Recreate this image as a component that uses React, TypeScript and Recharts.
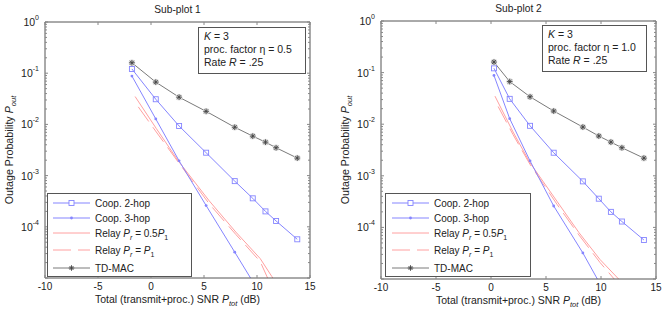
import { LineChart, Line, XAxis, YAxis, Legend } from "recharts";

const FONT = "'Liberation Sans', Arial, Helvetica, sans-serif";
const BLUE = "#8585ff";
const RED = "#ffa0a0";
const DARK = "#7a7a7a";
const STAR = "#444";
const AXIS = "#555";
const TICK = "#888";
const TEXT = "#222";

// x positions (total SNR, dB) for each panel
const snrA = [-1.8, 0.45, 2.65, 5.2, 7.9, 9.6, 10.8, 11.8, 13.8];
const snrB = [0.27, 1.7, 3.55, 5.7, 8.35, 9.8, 10.9, 11.9, 13.9];
const relaySnrA = [-1.5, 0.5, 2.6, 5.5, 8, 10.3, 11.4, 11.8];
const relayDashSnrA = [-1.2, 0.5, 2.6, 5.5, 8, 10.3, 11.0, 11.3];
const relaySnrB = [0.36, 2, 3.55, 6, 8, 9.9, 11.6, 12];
const relayDashSnrB = [0.65, 2, 3.55, 6, 8, 9.9, 11.2, 11.5];

// outage probabilities
const tdMac = [0.16, 0.067, 0.034, 0.018, 0.0088, 0.0059, 0.0045, 0.0035, 0.0022];
const coop2 = [0.121, 0.031, 0.0093, 0.0028, 7.8e-4, 3.6e-4, 2.0e-4, 1.3e-4, 5.7e-5];
const coop3A = [0.088, 0.0128, 0.00194, 2.6e-4, 3.2e-5, 8.5e-6];
const coop3B = [0.088, 0.0128, 0.00194, 2.6e-4, 3.2e-5, 8.9e-6];
const relayHalfA = [0.035, 0.0083, 0.0019, 3.2e-4, 7.9e-5, 2.4e-5, 1.07e-5, 7.9e-6];
const relayFullA = [0.022, 0.0071, 0.0018, 2.8e-4, 7.1e-5, 2.1e-5, 1e-5, 7e-6];
const relayHalfB = [0.035, 0.0071, 0.00178, 3.2e-4, 7.9e-5, 2.4e-5, 1e-5, 7.9e-6];
const relayFullB = [0.022, 0.0063, 0.00166, 2.8e-4, 7.1e-5, 2.1e-5, 1e-5, 7.9e-6];

const xTicks = [-10, -5, 0, 5, 10, 15];
const decades = [-5, -4, -3, -2, -1, 0];
const yTicks: number[] = [];
decades.forEach((d) => {
  yTicks.push(Math.pow(10, d));
  if (d < 0) for (let k = 2; k <= 9; k++) yTicks.push(k * Math.pow(10, d));
});

const zip = (xs: number[], ys: number[]) => ys.map((y, i) => ({ x: xs[i], y }));

const isMajor = (v: number) => Math.abs(Math.log10(v) - Math.round(Math.log10(v))) < 1e-6;

const SquareDot = (p: any) =>
  p.cx == null ? <g key={p.index} /> : (
    <rect key={p.index} x={p.cx - 2.5} y={p.cy - 2.5} width={5} height={5} fill="none" stroke={BLUE} strokeWidth={0.9} />
  );
const SmallDot = (p: any) =>
  p.cx == null ? <g key={p.index} /> : <circle key={p.index} cx={p.cx} cy={p.cy} r={1.4} fill={BLUE} />;
const starPath = (x: number, y: number) =>
  `M${x - 2.8},${y}H${x + 2.8}M${x},${y - 2.8}V${y + 2.8}M${x - 2},${y - 2}L${x + 2},${y + 2}M${x - 2},${y + 2}L${x + 2},${y - 2}`;
const StarDot = (p: any) =>
  p.cx == null ? <g key={p.index} /> : (
    <g key={p.index}>
      <circle cx={p.cx} cy={p.cy} r={3.3} fill="#ddd" />
      <path d={starPath(p.cx, p.cy)} stroke={STAR} strokeWidth={0.9} fill="none" />
    </g>
  );

const BottomTick = ({ x, y, payload }: any) => (
  <g>
    <line x1={x} x2={x} y1={y} y2={y - 3} stroke={TICK} />
    <text x={x} y={y + 11.5} textAnchor="middle" fontSize={10} fill={TEXT} fontFamily={FONT}>
      {payload.value}
    </text>
  </g>
);
const TopTick = ({ x, y }: any) => <line x1={x} x2={x} y1={y} y2={y + 3} stroke={TICK} />;
const LeftTick = ({ x, y, payload }: any) => {
  const v = payload.value;
  const major = isMajor(v);
  const e = Math.round(Math.log10(v));
  return (
    <g>
      <line x1={x} x2={x + (major ? 3 : 2)} y1={y} y2={y} stroke={TICK} />
      {major && e >= -4 && (
        <text x={x - 6} y={y + 4} textAnchor="end" fontSize={10.5} fill={TEXT} fontFamily={FONT}>
          10<tspan dy={-6} fontSize={7}>{e}</tspan>
        </text>
      )}
    </g>
  );
};
const RightTick = ({ x, y, payload }: any) => (
  <line x1={x} x2={x - (isMajor(payload.value) ? 3 : 2)} y1={y} y2={y} stroke={TICK} />
);

const LegendBox = ({ w, lineX }: { w: number; lineX: number }) => {
  const rows = [10, 25, 40, 57, 75];
  const x1 = lineX;
  const x2 = lineX + 37;
  const mid = (x1 + x2) / 2;
  const tx = x2 + 5;
  return (
    <svg width={w} height={84} style={{ display: "block", fontFamily: FONT }}>
      <rect x={0.5} y={0.5} width={w - 1} height={83} fill="#fff" stroke={AXIS} />
      <line x1={x1} x2={x2} y1={rows[0]} y2={rows[0]} stroke={BLUE} />
      <rect x={mid - 2.5} y={rows[0] - 2.5} width={5} height={5} fill="#fff" stroke={BLUE} strokeWidth={0.9} />
      <text x={tx} y={rows[0] + 3.5} fontSize={10} fill={TEXT}>Coop. 2-hop</text>
      <line x1={x1} x2={x2} y1={rows[1]} y2={rows[1]} stroke={BLUE} />
      <circle cx={mid} cy={rows[1]} r={1.4} fill={BLUE} />
      <text x={tx} y={rows[1] + 3.5} fontSize={10} fill={TEXT}>Coop. 3-hop</text>
      <line x1={x1} x2={x2} y1={rows[2]} y2={rows[2]} stroke={RED} />
      <text x={tx} y={rows[2] + 3.5} fontSize={10} fill={TEXT}>
        Relay <tspan fontStyle="italic">P</tspan>
        <tspan fontSize={7} dy={3} fontStyle="italic">r</tspan>
        <tspan dy={-3}> = 0.5</tspan>
        <tspan fontStyle="italic">P</tspan>
        <tspan fontSize={7} dy={3}>1</tspan>
      </text>
      <line x1={x1} x2={x2} y1={rows[3]} y2={rows[3]} stroke={RED} strokeDasharray="18 7" />
      <text x={tx} y={rows[3] + 3.5} fontSize={10} fill={TEXT}>
        Relay <tspan fontStyle="italic">P</tspan>
        <tspan fontSize={7} dy={3} fontStyle="italic">r</tspan>
        <tspan dy={-3}> = </tspan>
        <tspan fontStyle="italic">P</tspan>
        <tspan fontSize={7} dy={3}>1</tspan>
      </text>
      <line x1={x1} x2={x2} y1={rows[4]} y2={rows[4]} stroke={DARK} />
      <path d={starPath(mid, rows[4])} stroke={STAR} strokeWidth={0.9} fill="none" />
      <text x={tx} y={rows[4] + 3.5} fontSize={10} fill={TEXT}>TD-MAC</text>
    </svg>
  );
};

type PanelProps = {
  left: number;
  title: string;
  eta: string;
  margin: { top: number; right: number; bottom: number; left: number };
  snr: number[];
  coop3: number[];
  relaySnr: number[];
  relayDashSnr: number[];
  relayHalf: number[];
  relayFull: number[];
  legendPos: { left: number; top: number; width: number; lineX: number };
  notePos: { left: number; top: number; width: number; height: number };
};

const Panel = (p: PanelProps) => (
  <div style={{ position: "absolute", left: p.left, top: 0, width: 332, height: 314 }}>
    <LineChart width={332} height={314} margin={p.margin}>
      <XAxis
        type="number"
        dataKey="x"
        domain={[-10, 15]}
        ticks={xTicks}
        interval={0}
        height={1}
        tickSize={0}
        tickMargin={0}
        tickLine={false}
        allowDataOverflow
        axisLine={{ stroke: AXIS }}
        tick={(t: any) => <BottomTick {...t} />}
        label={{
          content: (l: any) => {
            const vb = l.viewBox || {};
            return (
              <text x={vb.x + vb.width / 2} y={vb.y + 25} textAnchor="middle" fontSize={10.5} fill={TEXT} fontFamily={FONT}>
                Total (transmit+proc.) SNR <tspan fontStyle="italic">P</tspan>
                <tspan fontSize={7.5} dy={3} fontStyle="italic">tot</tspan>
                <tspan dy={-3}> (dB)</tspan>
              </text>
            );
          },
        }}
      />
      <XAxis
        xAxisId="top"
        orientation="top"
        type="number"
        dataKey="x"
        domain={[-10, 15]}
        ticks={xTicks}
        interval={0}
        height={1}
        tickSize={0}
        tickMargin={0}
        tickLine={false}
        allowDataOverflow
        axisLine={{ stroke: AXIS }}
        tick={(t: any) => <TopTick {...t} />}
        label={{
          content: (l: any) => {
            const vb = l.viewBox || {};
            return (
              <text x={vb.x + vb.width / 2} y={vb.y - 8} textAnchor="middle" fontSize={10.2} fill={TEXT} fontFamily={FONT}>
                {p.title}
              </text>
            );
          },
        }}
      />
      <YAxis
        type="number"
        scale="log"
        domain={[1e-5, 1]}
        ticks={yTicks}
        interval={0}
        width={1}
        tickSize={0}
        tickMargin={0}
        tickLine={false}
        allowDataOverflow
        axisLine={{ stroke: AXIS }}
        tick={(t: any) => <LeftTick {...t} />}
        label={{
          content: (l: any) => {
            const vb = l.viewBox || {};
            const cx = vb.x - 31;
            const cy = vb.y + vb.height / 2;
            return (
              <text transform={`translate(${cx},${cy}) rotate(-90)`} textAnchor="middle" fontSize={10.7} fill={TEXT} fontFamily={FONT}>
                Outage Probability <tspan fontStyle="italic">P</tspan>
                <tspan fontSize={7.5} dy={3} fontStyle="italic">out</tspan>
              </text>
            );
          },
        }}
      />
      <YAxis
        yAxisId="right"
        orientation="right"
        type="number"
        scale="log"
        domain={[1e-5, 1]}
        ticks={yTicks}
        interval={0}
        width={1}
        tickSize={0}
        tickMargin={0}
        tickLine={false}
        allowDataOverflow
        axisLine={{ stroke: AXIS }}
        tick={(t: any) => <RightTick {...t} />}
      />
      <Line data={zip(p.relaySnr, p.relayHalf)} dataKey="y" type="linear" stroke={RED} strokeWidth={1} dot={false} isAnimationActive={false} />
      <Line data={zip(p.relayDashSnr, p.relayFull)} dataKey="y" type="linear" stroke={RED} strokeWidth={1} strokeDasharray="18 7" dot={false} isAnimationActive={false} />
      <Line data={zip(p.snr, coop2)} dataKey="y" type="linear" stroke={BLUE} strokeWidth={1} dot={SquareDot} isAnimationActive={false} />
      <Line data={zip(p.snr, p.coop3)} dataKey="y" type="linear" stroke={BLUE} strokeWidth={1} dot={SmallDot} isAnimationActive={false} />
      <Line data={zip(p.snr, tdMac)} dataKey="y" type="linear" stroke={DARK} strokeWidth={1} dot={StarDot} isAnimationActive={false} />
      <Legend
        layout="vertical"
        align="center"
        verticalAlign="middle"
        wrapperStyle={{ left: p.legendPos.left, top: p.legendPos.top, width: p.legendPos.width, height: 84 }}
        content={() => <LegendBox w={p.legendPos.width} lineX={p.legendPos.lineX} />}
      />
    </LineChart>
    <div
      style={{
        position: "absolute",
        left: p.notePos.left,
        top: p.notePos.top,
        width: p.notePos.width,
        height: p.notePos.height,
        boxSizing: "border-box",
        border: `1px solid ${AXIS}`,
        background: "#fff",
        fontFamily: FONT,
        fontSize: 10.5,
        lineHeight: "13px",
        color: TEXT,
        padding: "2px 0 0 5px",
        whiteSpace: "nowrap",
      }}
    >
      <div><i>K</i> = 3</div>
      <div>proc. factor η = {p.eta}</div>
      <div>Rate <i>R</i> = .25</div>
    </div>
  </div>
);

export default function App() {
  return (
    <div style={{ position: "absolute", left: 0, top: 0, width: 664, height: 314, background: "#fff" }}>
      <Panel
        left={0}
        title="Sub-plot 1"
        eta="0.5"
        margin={{ top: 21, right: 21, bottom: 35, left: 44 }}
        snr={snrA}
        coop3={coop3A}
        relaySnr={relaySnrA}
        relayDashSnr={relayDashSnrA}
        relayHalf={relayHalfA}
        relayFull={relayFullA}
        legendPos={{ left: 47, top: 193, width: 145, lineX: 6 }}
        notePos={{ left: 198, top: 27, width: 108, height: 47 }}
      />
      <Panel
        left={332}
        title="Sub-plot 2"
        eta="1.0"
        margin={{ top: 20, right: 7, bottom: 34, left: 48 }}
        snr={snrB}
        coop3={coop3B}
        relaySnr={relaySnrB}
        relayDashSnr={relayDashSnrB}
        relayHalf={relayHalfB}
        relayFull={relayFullB}
        legendPos={{ left: 53, top: 193, width: 146, lineX: 7 }}
        notePos={{ left: 210, top: 25, width: 105, height: 47 }}
      />
    </div>
  );
}
